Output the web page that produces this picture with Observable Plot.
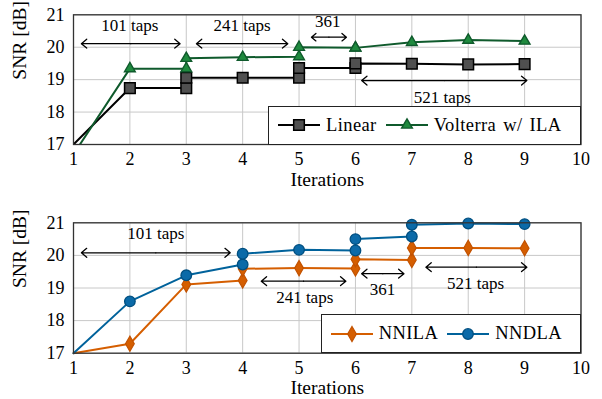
<!DOCTYPE html>
<html><head><meta charset="utf-8">
<script src="https://cdn.jsdelivr.net/npm/d3@7"></script>
<script src="https://cdn.jsdelivr.net/npm/@observablehq/plot@0.6"></script>
<style>
body{margin:0;background:#fff;}
#wrap{position:relative;width:602px;height:399px;font-family:"Liberation Serif",serif;}
#wrap svg{display:block;}
#wrap svg text{font-family:"Liberation Serif",serif !important;}
.legend{position:absolute;border:1.2px solid #222;background:#fff;display:flex;align-items:center;font-size:18.5px;letter-spacing:0.4px;word-spacing:2px;box-sizing:border-box;padding-left:8px;color:#000;}
.legend span{margin:0 8px 0 5px;}
</style></head><body><div id="wrap"></div>
<script>
// ---- data ----
const iterTop = [1, 2, 3, 3, 4, 5, 5, 6, 6, 7, 8, 9];
const linear = [17, 18.74, 18.74, 19.06, 19.06, 19.06, 19.36, 19.36, 19.5, 19.49, 19.47, 19.48];
const volterra = [16.7, 19.34, 19.34, 19.66, 19.69, 19.71, 20.0, 19.98, 19.98, 20.15, 20.22, 20.19];

const iterBottom = [1, 2, 3, 4, 4, 5, 6, 6, 7, 7, 8, 9];
const nnila = [17, 17.29, 19.11, 19.23, 19.59, 19.61, 19.6, 19.88, 19.86, 20.23, 20.23, 20.22];
const nndla = [17, 18.59, 19.39, 19.72, 20.05, 20.17, 20.15, 20.5, 20.58, 20.94, 20.98, 20.96];

const xTicks = [1, 2, 3, 4, 5, 6, 7, 8, 9, 10];
const yTicks = [17, 18, 19, 20, 21];

const tapLabels = ["101 taps", "241 taps", "361", "521 taps"];
const tapArrowFromTop = [1.14, 3.18, 5.22, 6.11];
const tapArrowToTop = [2.89, 4.8, 5.84, 9.04];
const tapArrowYTop = [20.11, 20.11, 20.31, 18.97];
const tapLabelXTop = [2.0, 3.99, 5.51, 7.54];
const tapLabelYTop = [20.68, 20.68, 20.78, 18.46];

const tapArrowFromBottom = [1.14, 4.33, 6.11, 7.25];
const tapArrowToBottom = [3.78, 5.83, 6.86, 9.04];
const tapArrowYBottom = [20.08, 19.21, 19.44, 19.64];
const tapLabelXBottom = [2.46, 5.1, 6.48, 8.13];
const tapLabelYBottom = [20.66, 18.71, 18.94, 19.15];

// ---- styles ----
const FONT = "'Liberation Serif', serif";
const C = {
  linFill: "#505050", linStroke: "#000",
  volLine: "#0f5a2c", volFill: "#1f8a3e",
  nnila: "#d55e00", nnilaDark: "#c25200",
  nndla: "#00629b", nndlaFill: "#0b6aa8", nndlaDark: "#004f80"
};

function series(xs, ys) { return xs.map((x, i) => ({x, y: ys[i]})); }
function annots(labels, from, to, ay, lx, ly) {
  return labels.map((t, i) => ({t, x1: from[i], x2: to[i], xm: (from[i] + to[i]) / 2, ay: ay[i], lx: lx[i], ly: ly[i]}));
}

function panel({height, marginTop, marginBottom, marks}) {
  return Plot.plot({
    width: 602, height, marginTop, marginBottom, marginLeft: 73, marginRight: 21.5,
    style: {fontFamily: FONT, fontSize: "18px", color: "#000", background: "#fff"},
    x: {domain: [1, 10], ticks: xTicks},
    y: {domain: [17, 21], ticks: yTicks},
    marks: [
      Plot.gridX(xTicks, {stroke: "#c8c8c8", strokeOpacity: 1, strokeWidth: 1}),
      Plot.gridY(yTicks, {stroke: "#c8c8c8", strokeOpacity: 1, strokeWidth: 1}),
      Plot.axisX(xTicks, {tickSize: 0, tickPadding: 8, label: null, fontSize: 18}),
      Plot.axisY(yTicks, {tickSize: 0, tickPadding: 9, label: null, fontSize: 18}),
      Plot.text(["SNR [dB]"], {frameAnchor: "left", rotate: -90, dx: -54, fontSize: 19.5}),
      Plot.text(["Iterations"], {frameAnchor: "bottom", dy: 41, fontSize: 19.5}),
      ...marks,
      Plot.frame({stroke: "#333", strokeWidth: 1.3})
    ]
  });
}

function annotMarks(data) {
  const opts = {y1: "ay", y2: "ay", stroke: "#000", strokeWidth: 1.3, headLength: 8, headAngle: 80, bend: 0};
  return [
    Plot.arrow(data, {...opts, x1: "xm", x2: "x1"}),
    Plot.arrow(data, {...opts, x1: "xm", x2: "x2"}),
    Plot.text(data, {x: "lx", y: "ly", text: "t", fontSize: 17, fill: "#000"})
  ];
}

const linData = series(iterTop, linear);
const volData = series(iterTop, volterra);
const nnilaData = series(iterBottom, nnila);
const nndlaData = series(iterBottom, nndla);

const topPanel = panel({
  height: 200, marginTop: 14.3, marginBottom: 56,
  marks: [
    ...annotMarks(annots(tapLabels, tapArrowFromTop, tapArrowToTop, tapArrowYTop, tapLabelXTop, tapLabelYTop)),
    Plot.line(linData, {x: "x", y: "y", stroke: C.linStroke, strokeWidth: 2, clip: true}),
    Plot.line(volData, {x: "x", y: "y", stroke: C.volLine, strokeWidth: 2, clip: true}),
    Plot.dot(linData.filter(d => d.x > 1), {x: "x", y: "y", symbol: "square", r: 6, fill: C.linFill, stroke: C.linStroke, strokeWidth: 1.5}),
    Plot.dot(volData.filter(d => d.x > 1), {x: "x", y: "y", symbol: "triangle", r: 4, fill: C.volFill, stroke: C.volLine, strokeWidth: 1.4})
  ]
});

const bottomPanel = panel({
  height: 199, marginTop: 22.3, marginBottom: 46.3,
  marks: [
    ...annotMarks(annots(tapLabels, tapArrowFromBottom, tapArrowToBottom, tapArrowYBottom, tapLabelXBottom, tapLabelYBottom)),
    Plot.line(nnilaData, {x: "x", y: "y", stroke: C.nnila, strokeWidth: 2}),
    Plot.line(nndlaData, {x: "x", y: "y", stroke: C.nndla, strokeWidth: 2}),
    Plot.dot(nnilaData.filter(d => d.x > 1), {x: "x", y: "y", symbol: "diamond", r: 4.6, fill: C.nnila, stroke: C.nnilaDark, strokeWidth: 1.2}),
    Plot.dot(nndlaData.filter(d => d.x > 1), {x: "x", y: "y", symbol: "circle", r: 5.3, fill: C.nndlaFill, stroke: C.nndlaDark, strokeWidth: 1.3})
  ]
});

const wrap = document.getElementById("wrap");
wrap.appendChild(topPanel);
wrap.appendChild(bottomPanel);

function swatch(color, symbol, size, fill, mstroke, sw) {
  const path = d3.symbol(symbol, size)();
  return `<svg width="44" height="20" style="display:block"><line x1="1" x2="43" y1="10" y2="10" stroke="${color}" stroke-width="2"/>` +
    `<path d="${path}" transform="translate(22,10)" fill="${fill}" stroke="${mstroke}" stroke-width="${sw}"/></svg>`;
}
function legend(items, left, topY, width, height) {
  const div = document.createElement("div");
  div.className = "legend";
  Object.assign(div.style, {left: left + "px", top: topY + "px", width: width + "px", height: height + "px"});
  div.innerHTML = items.map(it => swatch(...it.sw) + `<span>${it.label}</span>`).join("");
  wrap.appendChild(div);
}
legend([
  {label: "Linear", sw: [C.linStroke, d3.symbolSquare, 113, C.linFill, C.linStroke, 1.5]},
  {label: "Volterra w/ ILA", sw: [C.volLine, d3.symbolTriangle, 50, C.volFill, C.volLine, 1.4]}
], 268, 106, 313, 38.5);
legend([
  {label: "NNILA", sw: [C.nnila, d3.symbolDiamond, 66, C.nnila, C.nnilaDark, 1.2]},
  {label: "NNDLA", sw: [C.nndla, d3.symbolCircle, 88, C.nndlaFill, C.nndlaDark, 1.3]}
], 320.7, 200 + 114.3, 260.3, 38.5);
</script></body></html>
